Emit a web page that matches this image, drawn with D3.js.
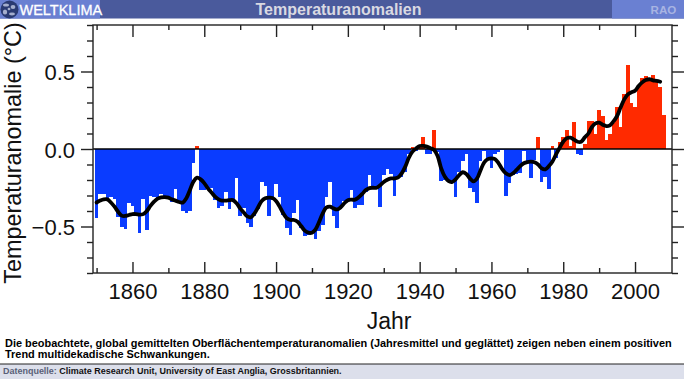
<!DOCTYPE html>
<html>
<head>
<meta charset="utf-8">
<script src="https://cdn.jsdelivr.net/npm/d3@7"></script>
<style>
  html, body { margin: 0; padding: 0; background: #fff; }
  svg { display: block; font-family: "Liberation Sans", Arial, sans-serif; }
  .axis path { display: none; }
  .axis line { stroke: #222; stroke-width: 1.4px; }
  .axis text { font-size: 22px; fill: #111; font-family: "Liberation Sans", Arial, sans-serif; }
</style>
</head>
<body>
<div id="chart"></div>
<script>
const firstYear = 1850;

// Jahresmittel 1850-2008
const annual = [
  -0.447, -0.29, -0.29, -0.32, -0.31, -0.325, -0.44, -0.505, -0.515, -0.35,
  -0.37, -0.43, -0.54, -0.32, -0.52, -0.30, -0.31, -0.32, -0.29, -0.31,
  -0.31, -0.34, -0.26, -0.35, -0.40, -0.415, -0.40, -0.09, 0.02, -0.265,
  -0.265, -0.26, -0.25, -0.33, -0.38, -0.37, -0.275, -0.39, -0.33, -0.19,
  -0.43, -0.38, -0.48, -0.505, -0.43, -0.39, -0.215, -0.24, -0.43, -0.33,
  -0.225, -0.31, -0.425, -0.51, -0.555, -0.415, -0.33, -0.51, -0.56, -0.555,
  -0.54, -0.58, -0.53, -0.49, -0.31, -0.215, -0.435, -0.51, -0.39, -0.335,
  -0.32, -0.265, -0.38, -0.36, -0.36, -0.275, -0.165, -0.26, -0.26, -0.375,
  -0.17, -0.13, -0.16, -0.30, -0.19, -0.18, -0.15, -0.035, 0.01, -0.01,
  0.01, 0.075, -0.03, -0.03, 0.12, -0.02, -0.205, -0.2, -0.2, -0.21,
  -0.31, -0.15, -0.08, -0.03, -0.25, -0.28, -0.35, -0.08, -0.01, -0.065,
  -0.125, -0.03, -0.02, -0.005, -0.30, -0.22, -0.165, -0.16, -0.155, -0.01,
  -0.08, -0.19, -0.07, 0.075, -0.21, -0.18, -0.255, 0.02, -0.06, 0.045,
  0.075, 0.12, 0.02, 0.175, -0.03, -0.04, 0.03, 0.18, 0.18, 0.10,
  0.25, 0.21, 0.06, 0.10, 0.17, 0.27, 0.14, 0.355, 0.545, 0.30,
  0.27, 0.40, 0.46, 0.47, 0.455, 0.48, 0.43, 0.40, 0.22
];

// geglaettet 1850-2007
const smoothed = [
  -0.345, -0.333, -0.325, -0.325, -0.345, -0.372, -0.405, -0.43, -0.432, -0.426,
  -0.42, -0.42, -0.424, -0.42, -0.40, -0.367, -0.34, -0.32, -0.312, -0.31,
  -0.314, -0.325, -0.333, -0.342, -0.346, -0.318, -0.265, -0.21, -0.185, -0.196,
  -0.22, -0.254, -0.28, -0.307, -0.325, -0.333, -0.333, -0.33, -0.33, -0.35,
  -0.383, -0.41, -0.435, -0.44, -0.415, -0.376, -0.335, -0.318, -0.314, -0.316,
  -0.335, -0.372, -0.415, -0.447, -0.458, -0.458, -0.47, -0.497, -0.527, -0.54,
  -0.54, -0.518, -0.47, -0.415, -0.378, -0.372, -0.383, -0.39, -0.376, -0.35,
  -0.33, -0.327, -0.327, -0.312, -0.29, -0.265, -0.252, -0.25, -0.25, -0.234,
  -0.213, -0.198, -0.19, -0.19, -0.183, -0.157, -0.114, -0.056, -0.017, 0.004,
  0.019, 0.02, 0.015, 0.005, -0.006, -0.045, -0.125, -0.178, -0.206, -0.213,
  -0.196, -0.168, -0.15, -0.161, -0.19, -0.209, -0.19, -0.135, -0.086, -0.065,
  -0.06, -0.065, -0.092, -0.13, -0.157, -0.168, -0.157, -0.135, -0.11, -0.092,
  -0.084, -0.082, -0.086, -0.10, -0.125, -0.131, -0.11, -0.08, -0.035, 0.008,
  0.047, 0.07, 0.073, 0.06, 0.047, 0.047, 0.075, 0.10, 0.142, 0.165,
  0.17, 0.157, 0.148, 0.153, 0.178, 0.213, 0.269, 0.32, 0.353, 0.366,
  0.376, 0.406, 0.43, 0.445, 0.45, 0.443, 0.44, 0.434
];

const xMajor = [1860, 1880, 1900, 1920, 1940, 1960, 1980, 2000];
const xMinor = [1850, 1870, 1890, 1910, 1930, 1950, 1970, 1990];
const yMajor = [-0.5, 0, 0.5];
const yMinor = [-0.8, -0.7, -0.6, -0.4, -0.3, -0.2, -0.1, 0.1, 0.2, 0.3, 0.4, 0.6, 0.7, 0.8];

const captionLines = [
  'Die beobachtete, global gemittelten Oberflächentemperaturanomalien (Jahresmittel und geglättet) zeigen neben einem positiven',
  'Trend multidekadische Schwankungen.'
];

const width = 684, height = 379;
const plot = { left: 93, right: 672, top: 25, bottom: 273 };

const svg = d3.select('#chart').append('svg')
  .attr('width', width).attr('height', height);

// Header band
svg.append('rect').attr('width', width).attr('height', 18.5).attr('fill', '#4a5a9c');
svg.append('rect').attr('width', 100).attr('height', 18.5).attr('fill', '#6a80d2');
svg.append('rect').attr('x', 612).attr('width', 72).attr('height', 18.5).attr('fill', '#6a80d2');

// little globe in the corner
svg.append('circle').attr('cx', 9.5).attr('cy', 9.5).attr('r', 9).attr('fill', '#2a3a72');
const blotches = [[6, 5, 3, 1.6], [13, 7, 2.4, 2], [5, 12, 2.2, 2.6], [12, 14, 3, 1.4], [9, 9, 1.4, 1.2]];
svg.selectAll('.blotch').data(blotches).join('ellipse')
  .attr('class', 'blotch')
  .attr('cx', d => d[0]).attr('cy', d => d[1]).attr('rx', d => d[2]).attr('ry', d => d[3])
  .attr('fill', '#c4cce4').attr('opacity', 0.8);

svg.append('text').attr('x', 19.5).attr('y', 14.5)
  .attr('font-size', 14.5).attr('fill', '#fff').attr('stroke', '#fff').attr('stroke-width', 0.3)
  .text('WELTKLIMA');
svg.append('text').attr('x', 338.5).attr('y', 14.5).attr('text-anchor', 'middle')
  .attr('font-size', 16).attr('font-weight', 700).attr('fill', '#d9d9e2').text('Temperaturanomalien');
svg.append('text').attr('x', 663.5).attr('y', 14).attr('text-anchor', 'middle')
  .attr('font-size', 11.6).attr('font-weight', 700).attr('fill', '#a8b4e2').text('RAO');

// Scales
const x = d3.scaleLinear().domain([1849, 2010.3]).range([plot.left, plot.right]);
const y = d3.scaleLinear().domain([-0.8, 0.8]).range([plot.bottom, plot.top]);

// Bars
const barData = annual.map((v, i) => ({ year: firstYear + i, value: v }));
svg.append('g').attr('shape-rendering', 'crispEdges')
  .selectAll('rect').data(barData).join('rect')
    .attr('x', d => x(d.year - 0.5))
    .attr('width', d => x(d.year + 0.5) - x(d.year - 0.5))
    .attr('y', d => y(Math.max(0, d.value)))
    .attr('height', d => Math.abs(y(d.value) - y(0)))
    .attr('fill', d => d.value < 0 ? '#0a3cff' : '#ff2a00');

// Zero line
svg.append('line')
  .attr('x1', plot.left).attr('x2', plot.right)
  .attr('y1', y(0)).attr('y2', y(0))
  .attr('stroke', '#000').attr('stroke-width', 1.5);

// Smoothed curve
const line = d3.line()
  .x((d, i) => x(firstYear + i))
  .y(d => y(d))
  .curve(d3.curveCatmullRom);
svg.append('path').datum(smoothed)
  .attr('d', line)
  .attr('fill', 'none').attr('stroke', '#000')
  .attr('stroke-width', 3.8).attr('stroke-linejoin', 'round').attr('stroke-linecap', 'round');

// Axes: x ticks point into the plot, y ticks point out of it
const addAxis = (maker, scale, values, size, pos, labels) => {
  const axis = maker(scale).tickValues(values).tickSize(size).tickPadding(6);
  if (labels) axis.tickFormat(labels); else axis.tickFormat('');
  return svg.append('g').attr('class', 'axis').attr('transform', pos).call(axis);
};
const yLabel = d => d3.format('.1f')(d).replace('-', '\u2212');

addAxis(d3.axisBottom, x, xMajor, -11, `translate(0,${plot.bottom})`, d3.format('d'))
  .selectAll('text').attr('dy', null).attr('y', 26);
addAxis(d3.axisBottom, x, xMinor, -5, `translate(0,${plot.bottom})`);
addAxis(d3.axisTop, x, xMajor, -12, `translate(0,${plot.top})`);
addAxis(d3.axisTop, x, xMinor, -5, `translate(0,${plot.top})`);
addAxis(d3.axisLeft, y, yMajor, 12, `translate(${plot.left},0)`, yLabel)
  .selectAll('text').attr('x', -18).attr('dy', null).attr('y', 8);
addAxis(d3.axisLeft, y, yMinor, 6, `translate(${plot.left},0)`);
addAxis(d3.axisRight, y, yMajor, 12, `translate(${plot.right},0)`);
addAxis(d3.axisRight, y, yMinor, 6, `translate(${plot.right},0)`);

// Frame
svg.append('rect')
  .attr('x', plot.left).attr('y', plot.top)
  .attr('width', plot.right - plot.left).attr('height', plot.bottom - plot.top)
  .attr('fill', 'none').attr('stroke', '#222').attr('stroke-width', 1.4);

// Axis titles
svg.append('text').attr('x', 389).attr('y', 329).attr('text-anchor', 'middle')
  .attr('font-size', 23).attr('fill', '#111').text('Jahr');
svg.append('text').attr('transform', 'translate(20.5,153) rotate(-90)').attr('text-anchor', 'middle')
  .attr('font-size', 23.4).attr('fill', '#111').text('Temperaturanomalie (°C)');

// Caption
svg.selectAll('.caption').data(captionLines).join('text')
  .attr('class', 'caption')
  .attr('x', 5).attr('y', (d, i) => 347 + i * 11)
  .attr('font-size', 10.95).attr('font-weight', 700).attr('fill', '#000')
  .text(d => d);

// Source strip
svg.append('rect').attr('y', 364).attr('width', width).attr('height', 15).attr('fill', '#dcdfeb');
svg.append('line').attr('x1', 0).attr('x2', width).attr('y1', 364).attr('y2', 364)
  .attr('stroke', '#222').attr('stroke-width', 1);
const source = svg.append('text').attr('x', 3).attr('y', 374)
  .attr('font-size', 8.98).attr('font-weight', 700);
source.append('tspan').attr('fill', '#5a5f78').text('Datenquelle: ');
source.append('tspan').attr('fill', '#111').text('Climate Research Unit, University of East Anglia, Grossbritannien.');
</script>
</body>
</html>
